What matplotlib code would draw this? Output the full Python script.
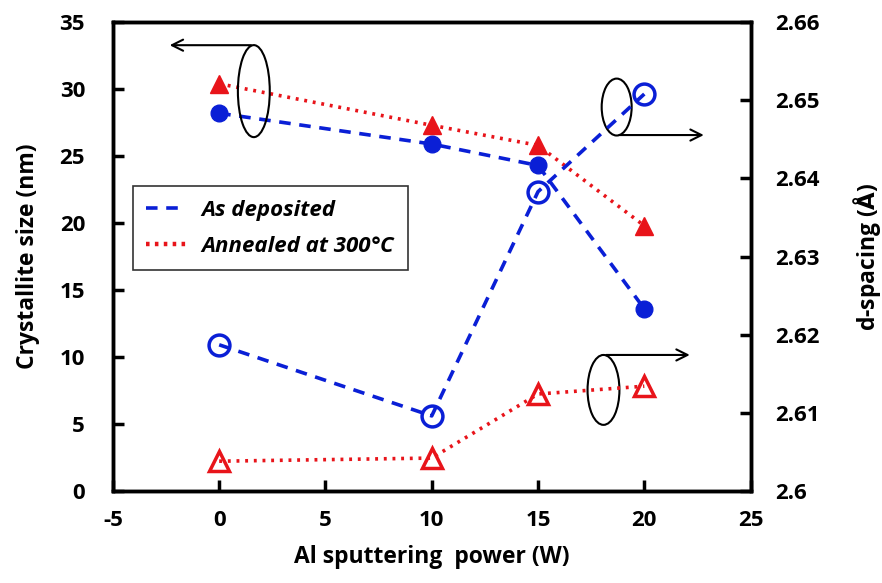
import matplotlib
matplotlib.use("Agg")
import matplotlib.pyplot as plt
from matplotlib.patches import Ellipse
from matplotlib.ticker import FuncFormatter
from matplotlib.lines import Line2D

plt.rcParams['font.family'] = ['Open Sans', 'DejaVu Sans']
plt.rcParams['axes.unicode_minus'] = False
plt.rcParams['mathtext.fontset'] = 'dejavusans'

power = [0, 10, 15, 20]
size_as_dep = [28.2, 25.9, 24.3, 13.6]
size_annealed = [30.4, 27.3, 25.8, 19.8]
d_as_dep = [2.6187, 2.6096, 2.6383, 2.6508]
d_annealed = [2.6038, 2.6042, 2.6124, 2.6134]

xticks = [-5, 0, 5, 10, 15, 20, 25]
yticks_left = [0, 5, 10, 15, 20, 25, 30, 35]
yticks_right = [2.60, 2.61, 2.62, 2.63, 2.64, 2.65, 2.66]

fig = plt.figure(figsize=(8.82, 5.83), dpi=100)
ax = fig.add_axes([0.128, 0.158, 0.723, 0.804])
ax2 = ax.twinx()

blue = '#0a1fd6'
red = '#e8141a'
dash = (0, (3.2, 2.4))
dot = (0, (0.8, 1.6))

ax.plot(power, size_as_dep, color=blue, lw=2.6, linestyle=dash, marker='o',
        markersize=12, markerfacecolor=blue, markeredgecolor=blue, zorder=3)
ax.plot(power, size_annealed, color=red, lw=2.6, linestyle=dot, marker='^',
        markersize=13, markerfacecolor=red, markeredgecolor=red, zorder=3)
ax2.plot(power, d_as_dep, color=blue, lw=2.6, linestyle=dash, marker='o',
         markersize=15, markerfacecolor='none', markeredgecolor=blue, markeredgewidth=2.5, zorder=3)
ax2.plot(power, d_annealed, color=red, lw=2.6, linestyle=dot, marker='^',
         markersize=15, markerfacecolor='none', markeredgecolor=red, markeredgewidth=2.5, zorder=3)

ax.set_xlim(-5, 25)
ax.set_ylim(0, 35)
ax2.set_ylim(2.60, 2.66)
ax.set_xticks(xticks)
ax.set_yticks(yticks_left)
ax2.set_yticks(yticks_right)
ax2.yaxis.set_major_formatter(FuncFormatter(lambda v, p: f"{v:g}"))

for a in (ax, ax2):
    for s in a.spines.values():
        s.set_linewidth(2.5)
    a.tick_params(direction='in', length=8, width=2.5, labelsize=16)
    for lab in a.get_xticklabels() + a.get_yticklabels():
        lab.set_fontweight('bold')
ax.tick_params(axis='x', pad=14)
ax.tick_params(axis='y', pad=20)
ax2.tick_params(axis='y', pad=18)

ax.set_xlabel('Al sputtering  power (W)', fontsize=16.5, fontweight='bold', labelpad=10)
ax.set_ylabel('Crystallite size (nm)', fontsize=16.5, fontweight='bold', labelpad=14)
ax2.set_ylabel('d-spacing ($\\mathbf{\\AA}$)', fontsize=16.5, fontweight='bold', labelpad=22)

# annotations (ellipses + arrows)
for (cx, cy, w, h) in [(1.63, 29.85, 1.50, 6.87), (18.70, 28.66, 1.41, 4.25), (18.08, 7.54, 1.50, 5.22)]:
    ax.add_patch(Ellipse((cx, cy), w, h, fill=False, edgecolor='black', lw=1.5, zorder=4))
for (x0, y0, x1) in [(1.63, 33.28, -2.46), (18.70, 26.57, 22.93), (18.08, 10.15, 22.27)]:
    ax.annotate('', xy=(x1, y0), xytext=(x0, y0),
                arrowprops=dict(arrowstyle='->', color='black', lw=1.5, mutation_scale=20), zorder=4)

# legend
handles = [Line2D([], [], color=blue, lw=2.6, linestyle=dash),
           Line2D([], [], color=red, lw=3.2, linestyle=(0, (0.8, 1.2)))]
leg = ax.legend(handles, ['As deposited', 'Annealed at 300°C'], loc='upper left',
                bbox_to_anchor=(0.031, 0.65), frameon=True, fancybox=False,
                prop={'size': 16, 'weight': 'bold', 'style': 'italic'},
                handlelength=1.8, handletextpad=0.7, borderpad=0.6, labelspacing=0.7,
                borderaxespad=0)
leg.get_frame().set_edgecolor('black')
leg.get_frame().set_linewidth(1.2)

fig.savefig('out.png', dpi=100)
